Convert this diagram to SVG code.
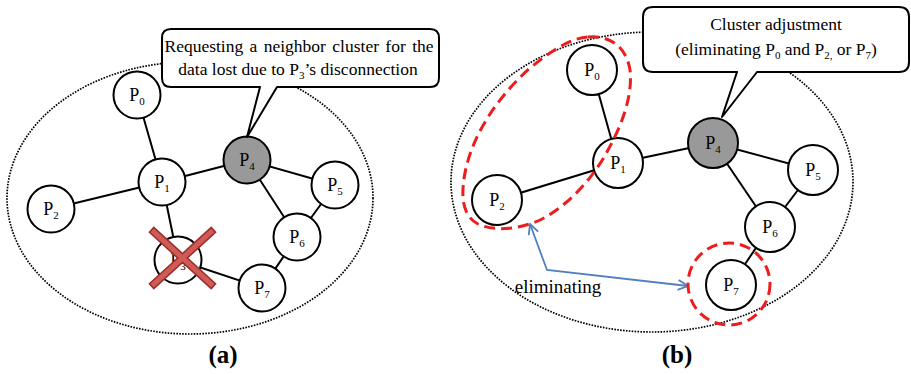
<svg xmlns="http://www.w3.org/2000/svg" width="911" height="374" viewBox="0 0 911 374">
<defs>
<style>
.bg{fill:#fff}
.cluster{fill:none;stroke:#000;stroke-width:1.7;stroke-dasharray:1.6 1.3}
.edge{stroke:#000;stroke-width:2;fill:none}
.node circle{fill:#fff;stroke:#000;stroke-width:2}
.node.head circle{fill:#999}
.lbl{font-family:"Liberation Serif","Times New Roman",serif;font-size:18px;fill:#000;text-anchor:middle}
.sub{font-size:11px}
.call{fill:#fff;stroke:#000;stroke-width:2;stroke-linejoin:round}
.ctext{font-family:"Liberation Serif","Times New Roman",serif;font-size:17.5px;fill:#000;text-anchor:middle}
.cap{font-family:"Liberation Serif","Times New Roman",serif;font-size:25px;font-weight:bold;fill:#000;text-anchor:middle}
.reddash{fill:none;stroke:#ee1c1c;stroke-width:3;stroke-dasharray:11 6}
.blue{fill:none;stroke:#4f81bd;stroke-width:1.8}
</style>
<marker id="openArrow" viewBox="0 0 12 12" refX="11" refY="6" markerWidth="12" markerHeight="12" markerUnits="userSpaceOnUse" orient="auto-start-reverse">
<path d="M1,1 L11,6 L1,11" fill="none" stroke="#4f81bd" stroke-width="1.8"/>
</marker>
</defs>
<rect class="bg" x="0" y="0" width="911" height="374"/>

<!-- Panel (a) -->
<ellipse class="cluster" cx="190" cy="198" rx="183" ry="136"/>
<g id="connectors-a">
<line class="edge" x1="137" y1="95" x2="162" y2="182"/>
<line class="edge" x1="162" y1="182" x2="51" y2="209"/>
<line class="edge" x1="162" y1="182" x2="247" y2="160"/>
<line class="edge" x1="162" y1="182" x2="178" y2="260"/>
<line class="edge" x1="247" y1="160" x2="335" y2="185"/>
<line class="edge" x1="247" y1="160" x2="297" y2="237"/>
<line class="edge" x1="335" y1="185" x2="297" y2="237"/>
<line class="edge" x1="297" y1="237" x2="262" y2="288"/>
<line class="edge" x1="178" y1="260" x2="262" y2="288"/>
</g>
<g id="a-P0" class="node"><circle cx="137" cy="95" r="23.5"/><text class="lbl" x="137" y="101">P<tspan class="sub" dy="4">0</tspan></text></g>
<g id="a-P1" class="node"><circle cx="162" cy="182" r="23.5"/><text class="lbl" x="162" y="188">P<tspan class="sub" dy="4">1</tspan></text></g>
<g id="a-P2" class="node"><circle cx="51" cy="209" r="23.5"/><text class="lbl" x="51" y="215">P<tspan class="sub" dy="4">2</tspan></text></g>
<g id="a-P3" class="node"><circle cx="178" cy="260" r="23.5"/><text class="lbl" x="178" y="266">P<tspan class="sub" dy="4">3</tspan></text></g>
<g id="a-P4" class="node head"><circle cx="247" cy="160" r="23.5"/><text class="lbl" x="247" y="166">P<tspan class="sub" dy="4">4</tspan></text></g>
<g id="a-P5" class="node"><circle cx="335" cy="185" r="23.5"/><text class="lbl" x="335" y="191">P<tspan class="sub" dy="4">5</tspan></text></g>
<g id="a-P6" class="node"><circle cx="297" cy="237" r="23.5"/><text class="lbl" x="297" y="243">P<tspan class="sub" dy="4">6</tspan></text></g>
<g id="a-P7" class="node"><circle cx="262" cy="288" r="23.5"/><text class="lbl" x="262" y="294">P<tspan class="sub" dy="4">7</tspan></text></g>
<g id="a-cross">
<line x1="154" y1="232" x2="211" y2="284" stroke="#9b2d2a" stroke-width="8" stroke-linecap="square"/>
<line x1="211" y1="232" x2="154" y2="284" stroke="#9b2d2a" stroke-width="8" stroke-linecap="square"/>
<line x1="154" y1="232" x2="211" y2="284" stroke="#cf5a56" stroke-width="5" stroke-linecap="square"/>
<line x1="211" y1="232" x2="154" y2="284" stroke="#cf5a56" stroke-width="5" stroke-linecap="square"/>
</g>
<g id="a-callout">
<path class="call" d="M171,29 H430 Q439,29 439,38 V78 Q439,87 430,87 H277 L247,137 L260,87 H171 Q162,87 162,78 V38 Q162,29 171,29 Z"/>
<text class="ctext" x="299" y="52" word-spacing="2">Requesting a neighbor cluster for the</text>
<text class="ctext" x="298" y="75">data lost due to P<tspan class="sub" dy="4">3</tspan><tspan dy="-4">’s disconnection</tspan></text>
</g>
<text class="cap" x="223" y="363">(a)</text>

<!-- Panel (b) -->
<ellipse class="cluster" cx="652" cy="182" rx="201" ry="150"/>
<g id="connectors-b">
<line class="edge" x1="592" y1="70" x2="618" y2="163"/>
<line class="edge" x1="618" y1="163" x2="497" y2="200"/>
<line class="edge" x1="618" y1="163" x2="713" y2="143"/>
<line class="edge" x1="713" y1="143" x2="813" y2="170"/>
<line class="edge" x1="713" y1="143" x2="770" y2="227"/>
<line class="edge" x1="813" y1="170" x2="770" y2="227"/>
<line class="edge" x1="770" y1="227" x2="731" y2="285"/>
<polyline class="blue" points="530,224 547,270 688,286" marker-start="url(#openArrow)" marker-end="url(#openArrow)"/>
</g>
<g id="b-P0" class="node"><circle cx="592" cy="70" r="25"/><text class="lbl" x="592" y="76">P<tspan class="sub" dy="4">0</tspan></text></g>
<g id="b-P1" class="node"><circle cx="618" cy="163" r="25"/><text class="lbl" x="618" y="169">P<tspan class="sub" dy="4">1</tspan></text></g>
<g id="b-P2" class="node"><circle cx="497" cy="200" r="25"/><text class="lbl" x="497" y="206">P<tspan class="sub" dy="4">2</tspan></text></g>
<g id="b-P4" class="node head"><circle cx="713" cy="143" r="25"/><text class="lbl" x="713" y="149">P<tspan class="sub" dy="4">4</tspan></text></g>
<g id="b-P5" class="node"><circle cx="813" cy="170" r="25"/><text class="lbl" x="813" y="176">P<tspan class="sub" dy="4">5</tspan></text></g>
<g id="b-P6" class="node"><circle cx="770" cy="227" r="25"/><text class="lbl" x="770" y="233">P<tspan class="sub" dy="4">6</tspan></text></g>
<g id="b-P7" class="node"><circle cx="731" cy="285" r="25"/><text class="lbl" x="731" y="291">P<tspan class="sub" dy="4">7</tspan></text></g>
<g id="b-eliminate">
<path class="reddash" d="M588,37 C608,35 626,45 630,70 C633,95 622,125 608,150 C595,175 570,205 540,220 C520,229 495,232 478,224 C462,216 460,195 466,168 C475,130 500,95 530,68 C550,52 570,38 588,37 Z"/>
<circle class="reddash" cx="729" cy="284" r="41"/>
<text class="lbl" x="558" y="293" style="font-size:19px">eliminating</text>
</g>
<g id="b-callout">
<path class="call" d="M653,7 H899 Q909,7 909,17 V62 Q909,72 899,72 H757 L722,117 L737,72 H653 Q643,72 643,62 V17 Q643,7 653,7 Z"/>
<text class="ctext" x="776" y="30">Cluster adjustment</text>
<text class="ctext" x="776" y="55">(eliminating  P<tspan class="sub" dy="4">0</tspan><tspan dy="-4"> and P</tspan><tspan class="sub" dy="4">2,</tspan><tspan dy="-4"> or P</tspan><tspan class="sub" dy="4">7</tspan><tspan dy="-4">)</tspan></text>
</g>
<text class="cap" x="677" y="363">(b)</text>
</svg>
